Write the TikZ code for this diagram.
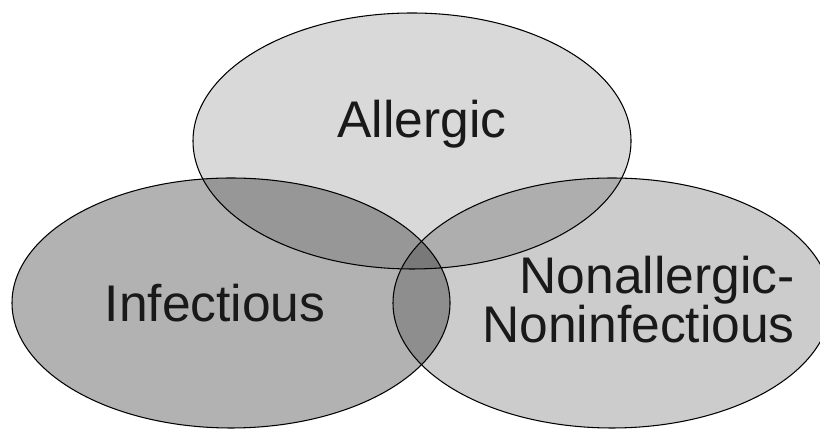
\documentclass[tikz,border=0pt]{standalone}
\usepackage{fontspec}
\setmainfont{Liberation Sans}
\usepackage{tikz}
\usetikzlibrary{positioning}

\begin{document}
\begin{tikzpicture}[x=0.03cm,y=0.03cm,
  setline/.style={black, line width=0.9pt},
  setname/.style={inner sep=0pt, font=\fontsize{44}{39.5}\selectfont, text=black!90}]

\useasboundingbox (0,0) rectangle (820,430);
\clip (0,0) rectangle (820,430);

% fills first, so every outline stays on top
\fill[black, fill opacity=0.15] (412,289) ellipse [x radius=219, y radius=128];
\fill[black, fill opacity=0.30] (231,127) ellipse [x radius=219, y radius=125];
\fill[black, fill opacity=0.20] (612,127) ellipse [x radius=219, y radius=125];

\draw[setline] (412,289) ellipse [x radius=219, y radius=128];
\draw[setline] (231,127) ellipse [x radius=219, y radius=125];
\draw[setline] (612,127) ellipse [x radius=219, y radius=125];

\node[setname, anchor=base] (allergic) at (422,292) {Allergic};
\node[setname, anchor=base] (infectious) at (215,108) {Infectious};
\node[setname, anchor=base east, align=right] (nonallergic) at (795,87) {Nonallergic-\\Noninfectious};

\end{tikzpicture}
\end{document}
